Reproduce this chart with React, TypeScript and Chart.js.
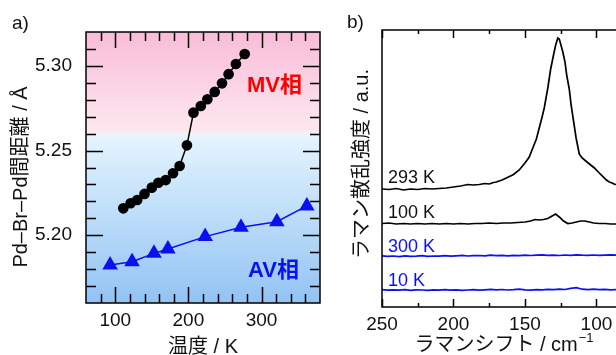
import React, { useEffect, useRef } from "react";
import { Chart, registerables } from "chart.js";

Chart.register(...registerables);

const FONT = '"Liberation Sans", Arial, "Noto Sans CJK JP", sans-serif';
const CJK = '"Liberation Sans", "Noto Sans CJK JP", sans-serif';

// ---------- panel a data ----------
const mvTemps = [111, 121, 130, 140, 150, 159, 169, 179, 188, 198, 207, 217, 226, 236, 246, 255, 265, 277];
const mvDist = [5.2159, 5.2189, 5.2208, 5.2244, 5.2281, 5.231, 5.2326, 5.2366, 5.2409, 5.2531, 5.2724, 5.2763, 5.2803, 5.2846, 5.2897, 5.2951, 5.3011, 5.307];
const avTemps = [93, 123, 153, 172, 223, 272, 321, 362];
const avDist = [5.1824, 5.1844, 5.1893, 5.1919, 5.1992, 5.2047, 5.208, 5.2173];
const tempTicks = [100, 200, 300];
const tempMinorTicks = [80, 100, 120, 140, 160, 180, 200, 220, 240, 260, 280, 300, 320, 340, 360];
const distTicks = [5.2, 5.25, 5.3];
const distMinorTicks = [5.17, 5.18, 5.19, 5.2, 5.21, 5.22, 5.23, 5.24, 5.25, 5.26, 5.27, 5.28, 5.29, 5.3, 5.31];
const phaseBoundary = 5.26;

// ---------- panel b data ----------
const shift293 = [250, 245, 240, 235, 230, 225, 220, 215, 210, 205, 200, 195, 190, 186, 182, 178, 175, 172, 170, 166, 163, 158, 154, 150, 147, 144.5, 142, 140, 138, 136.5, 134, 132, 130, 128.5, 127, 126, 125, 123.5, 122, 120.8, 119, 117.7, 116, 114.2, 112, 110, 107, 104, 101.4, 98, 95.6, 93, 91, 89, 87, 84, 80];
const int293 = [118, 117.5, 118.5, 117, 118, 117.5, 118.5, 118, 118.5, 119, 120, 121, 122.5, 122, 122.5, 123.5, 123, 124.5, 125, 127, 129, 132.5, 137, 144, 150, 159, 168, 179, 190, 199, 219, 238, 252, 262, 269, 268, 263, 255, 245, 232, 218, 202, 186, 169, 153, 149, 145.5, 142, 139, 134, 130.7, 127, 125, 124, 122.5, 123, 122];
const shift100 = [250, 245, 240, 235, 230, 225, 220, 215, 210, 205, 200, 195, 190, 185, 180, 175, 170, 165, 160, 155, 150, 146, 143, 140, 137, 134, 131, 128.5, 126, 123, 120, 117, 114, 111, 108, 105, 102, 98, 94, 90, 86, 80];
const int100 = [83.5, 84, 83, 83.5, 83, 83.5, 83, 83.5, 83, 83.5, 83, 83.5, 83, 83.5, 83.5, 84, 83.5, 84, 84, 84.5, 85, 86, 87.5, 87, 87.5, 88.5, 91, 93, 90, 86, 83.5, 84, 85, 86, 86, 85, 84, 83.5, 83.5, 83, 83, 83];
const shiftFlat = [250, 246, 242, 238, 234, 230, 226, 222, 218, 214, 210, 206, 202, 198, 194, 190, 186, 182, 178, 174, 170, 166, 162, 158, 154, 150, 146, 142, 138, 134, 130, 126, 122, 118, 114, 110, 106, 102, 98, 94, 90, 86, 82];
const int300 = [51.2, 50.6, 51.0, 50.4, 51.1, 50.7, 50.9, 51.3, 50.6, 51.0, 50.8, 51.4, 50.9, 51.2, 51.6, 51.0, 51.3, 51.5, 51.1, 51.8, 51.3, 51.6, 51.2, 51.7, 51.4, 51.9, 51.5, 51.8, 52.1, 51.6, 51.9, 51.5, 52.0, 51.7, 52.2, 51.8, 51.6, 52.0, 51.7, 51.9, 52.1, 51.8, 52.0];
const int10 = [17.4, 16.8, 17.2, 16.9, 17.3, 16.7, 17.1, 17.0, 16.6, 17.2, 16.9, 17.3, 16.8, 17.1, 16.7, 17.0, 17.4, 16.9, 17.2, 17.6, 17.1, 17.5, 17.0, 17.3, 17.8, 17.2, 16.9, 17.4, 17.1, 17.6, 17.3, 17.9, 17.5, 18.6, 19.3, 17.8, 17.4, 17.9, 17.3, 17.6, 17.2, 17.5, 17.1];
const shiftTicks = [250, 200, 150, 100];
const shiftMinorTicks = [225, 175, 125];
const spectraLabels = ["293 K", "100 K", "300 K", "10 K"];
const spectraLabelLevels = [124, 89, 55, 21];

const BLUE = "#0a10f0";
const pairs = (xs: number[], ys: number[]) => xs.map((x, i) => ({ x, y: ys[i] }));

const panelAPlugin = {
  id: "panelA",
  beforeDatasetsDraw(chart: any) {
    const { ctx, chartArea: a, scales } = chart;
    const x = scales.x, y = scales.y;
    const yb = y.getPixelForValue(phaseBoundary);
    ctx.save();
    let g = ctx.createLinearGradient(0, a.top, 0, yb);
    g.addColorStop(0, "#f9bcd9");
    g.addColorStop(1, "#fde9ef");
    ctx.fillStyle = g;
    ctx.fillRect(a.left, a.top, a.right - a.left, yb - a.top);
    g = ctx.createLinearGradient(0, yb, 0, a.bottom);
    g.addColorStop(0, "#e6f5fe");
    g.addColorStop(1, "#92c3f4");
    ctx.fillStyle = g;
    ctx.fillRect(a.left, yb, a.right - a.left, a.bottom - yb);
    ctx.strokeStyle = "#000";
    ctx.lineWidth = 1.5;
    ctx.beginPath();
    for (const t of tempMinorTicks) {
      const px = Math.round(x.getPixelForValue(t)) + 0.5;
      const L = tempTicks.includes(t) ? 16 : 9;
      ctx.moveTo(px, a.bottom); ctx.lineTo(px, a.bottom - L);
      ctx.moveTo(px, a.top); ctx.lineTo(px, a.top + L);
    }
    for (const d of distMinorTicks) {
      const py = Math.round(y.getPixelForValue(d)) + 0.5;
      const L = distTicks.some((v) => Math.abs(v - d) < 1e-6) ? 17 : 10;
      ctx.moveTo(a.left, py); ctx.lineTo(a.left + L, py);
      ctx.moveTo(a.right, py); ctx.lineTo(a.right - L, py);
    }
    ctx.stroke();
    ctx.restore();
  },
  afterDatasetsDraw(chart: any) {
    const { ctx, chartArea: a } = chart;
    ctx.save();
    ctx.strokeStyle = "#000";
    ctx.lineWidth = 1.5;
    ctx.strokeRect(a.left, a.top, a.right - a.left, a.bottom - a.top);
    ctx.textBaseline = "alphabetic";
    ctx.textAlign = "left";
    ctx.fillStyle = "#ff0000";
    ctx.font = `bold 22px ${CJK}`;
    ctx.fillText("MV相", 247, 92);
    ctx.fillStyle = BLUE;
    ctx.fillText("AV相", 248, 277);
    ctx.fillStyle = "#111";
    ctx.font = `19px ${FONT}`;
    ctx.fillText("a)", 12, 29);
    ctx.font = `20px ${CJK}`;
    ctx.textAlign = "center";
    ctx.textBaseline = "middle";
    ctx.fillText("温度 / K", (a.left + a.right) / 2, 347);
    ctx.translate(21, 177);
    ctx.rotate(-Math.PI / 2);
    ctx.fillText("Pd–Br–Pd間距離 / Å", 0, 0);
    ctx.restore();
  },
};

const panelBPlugin = {
  id: "panelB",
  beforeDatasetsDraw(chart: any) {
    const { ctx, chartArea: a, scales } = chart;
    const x = scales.x;
    ctx.save();
    ctx.strokeStyle = "#000";
    ctx.lineWidth = 1.5;
    ctx.beginPath();
    for (const t of [...shiftTicks, ...shiftMinorTicks]) {
      const px = Math.round(x.getPixelForValue(t)) + 0.5;
      const L = shiftTicks.includes(t) ? 8 : 4;
      ctx.moveTo(px, a.bottom); ctx.lineTo(px, a.bottom - L);
      ctx.moveTo(px, a.top); ctx.lineTo(px, a.top + L);
    }
    ctx.stroke();
    ctx.restore();
  },
  afterDatasetsDraw(chart: any) {
    const { ctx, chartArea: a, scales } = chart;
    const y = scales.y;
    ctx.save();
    ctx.strokeStyle = "#000";
    ctx.lineWidth = 1.5;
    ctx.strokeRect(a.left, a.top, a.right - a.left, a.bottom - a.top);
    ctx.textAlign = "left";
    ctx.textBaseline = "alphabetic";
    ctx.font = `18px ${FONT}`;
    spectraLabels.forEach((s, i) => {
      ctx.fillStyle = i < 2 ? "#111" : BLUE;
      ctx.fillText(s, a.left + 6, y.getPixelForValue(spectraLabelLevels[i]));
    });
    ctx.fillStyle = "#111";
    ctx.font = `19px ${FONT}`;
    ctx.fillText("b)", 17, 28);
    // x title
    const main = "ラマンシフト / cm";
    ctx.font = `20px ${CJK}`;
    const wMain = ctx.measureText(main).width;
    ctx.font = `13px ${FONT}`;
    const sup = "−1";
    const wSup = ctx.measureText(sup).width;
    const cx = (a.left + a.right) / 2;
    const startX = cx - (wMain + wSup) / 2;
    ctx.textBaseline = "middle";
    ctx.font = `20px ${CJK}`;
    ctx.fillText(main, startX, 345);
    ctx.font = `13px ${FONT}`;
    ctx.fillText(sup, startX + wMain + 1, 338);
    // y title
    ctx.font = `20px ${CJK}`;
    ctx.textAlign = "center";
    ctx.translate(32, 164);
    ctx.rotate(-Math.PI / 2);
    ctx.fillText("ラマン散乱強度 / a.u.", 0, 0);
    ctx.restore();
  },
};

export default function App() {
  const refA = useRef<HTMLCanvasElement>(null);
  const refB = useRef<HTMLCanvasElement>(null);

  useEffect(() => {
    const chartA = new Chart(refA.current as HTMLCanvasElement, {
      type: "scatter",
      data: {
        datasets: [
          {
            data: pairs(mvTemps, mvDist),
            showLine: true,
            borderColor: "#000",
            backgroundColor: "#000",
            borderWidth: 1.5,
            pointRadius: 4.6,
            pointStyle: "circle",
          },
          {
            data: pairs(avTemps, avDist),
            showLine: true,
            borderColor: BLUE,
            backgroundColor: BLUE,
            borderWidth: 1.5,
            pointRadius: 7.5,
            pointStyle: "triangle",
          },
        ],
      },
      options: {
        animation: false,
        responsive: false,
        devicePixelRatio: 1,
        layout: { padding: { top: 32, right: 10, left: 0, bottom: 0 } },
        plugins: { legend: { display: false }, tooltip: { enabled: false } },
        scales: {
          x: {
            type: "linear",
            min: 60,
            max: 380,
            grid: { display: false, drawTicks: false },
            border: { display: false },
            afterBuildTicks: (s: any) => { s.ticks = tempTicks.map((v) => ({ value: v })); },
            afterFit: (s: any) => { s.height = 52; },
            ticks: { color: "#111", font: { family: FONT, size: 19 }, padding: 6, maxRotation: 0 },
          },
          y: {
            type: "linear",
            min: 5.16,
            max: 5.32,
            grid: { display: false, drawTicks: false },
            border: { display: false },
            afterBuildTicks: (s: any) => { s.ticks = distTicks.map((v) => ({ value: v })); },
            afterFit: (s: any) => { s.width = 86; },
            ticks: {
              color: "#111",
              font: { family: FONT, size: 19 },
              padding: 14,
              callback: (v: any) => Number(v).toFixed(2),
            },
          },
        },
      },
      plugins: [panelAPlugin],
    } as any);

    const line = (xs: number[], ys: number[], color: string) => ({
      data: pairs(xs, ys),
      showLine: true,
      borderColor: color,
      borderWidth: 1.7,
      pointRadius: 0,
      tension: 0,
    });

    const chartB = new Chart(refB.current as HTMLCanvasElement, {
      type: "scatter",
      data: {
        datasets: [
          line(shift293, int293, "#000"),
          line(shift100, int100, "#000"),
          line(shiftFlat, int300, BLUE),
          line(shiftFlat, int10, BLUE),
        ],
      },
      options: {
        animation: false,
        responsive: false,
        devicePixelRatio: 1,
        layout: { padding: { top: 30, right: 5, left: 52, bottom: 0 } },
        plugins: { legend: { display: false }, tooltip: { enabled: false } },
        scales: {
          x: {
            type: "linear",
            reverse: true,
            min: 80,
            max: 250,
            grid: { display: false, drawTicks: false },
            border: { display: false },
            afterBuildTicks: (s: any) => { s.ticks = shiftTicks.map((v) => ({ value: v })); },
            afterFit: (s: any) => { s.height = 48; },
            ticks: { color: "#111", font: { family: FONT, size: 19 }, padding: 6, maxRotation: 0 },
          },
          y: { type: "linear", min: 0, max: 277, display: false },
        },
      },
      plugins: [panelBPlugin],
    } as any);

    return () => {
      chartA.destroy();
      chartB.destroy();
    };
  }, []);

  return (
    <div
      style={{
        position: "fixed",
        left: 0,
        top: 0,
        width: 616,
        height: 355,
        overflow: "hidden",
        background: "#fff",
      }}
    >
      <canvas ref={refA} width={330} height={355} style={{ position: "absolute", left: 0, top: 0, width: 330, height: 355 }} />
      <canvas ref={refB} width={300} height={355} style={{ position: "absolute", left: 330, top: 0, width: 300, height: 355 }} />
    </div>
  );
}
